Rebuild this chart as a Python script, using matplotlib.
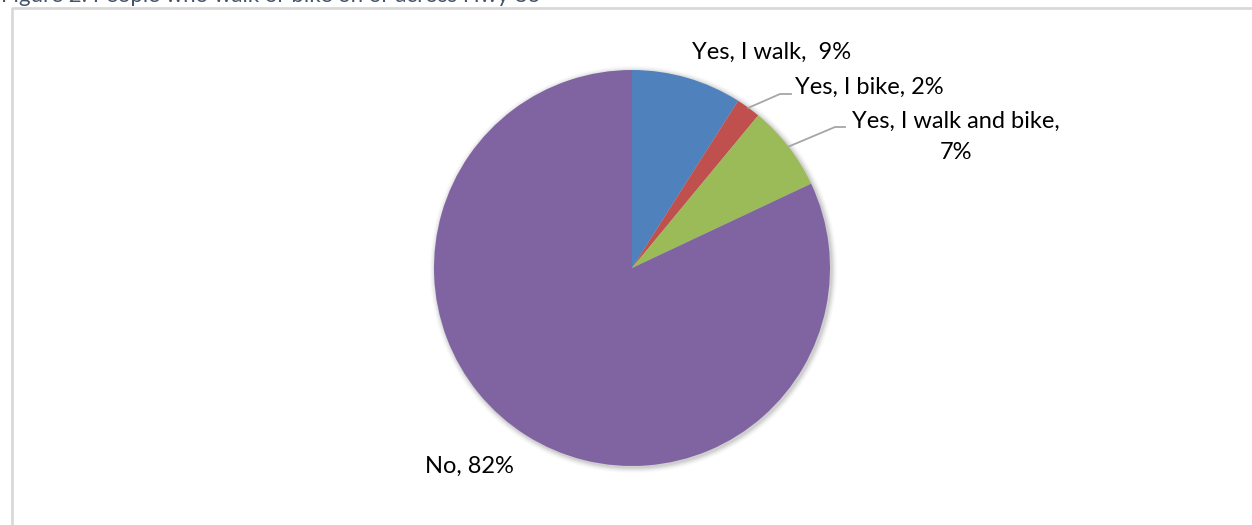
import numpy as np
import matplotlib
matplotlib.use("Agg")
import matplotlib.pyplot as plt
from matplotlib.patches import Circle

categories = ["Yes, I walk", "Yes, I bike", "Yes, I walk and bike", "No"]
shares = [9, 2, 7, 82]
label_texts = ["Yes, I walk,  9%", "Yes, I bike, 2%", "Yes, I walk and bike,\n7%", "No, 82%"]
colors = ["#4F81BD", "#C0504D", "#9BBB59", "#8064A2"]

plt.rcParams["font.family"] = ["Lato", "DejaVu Sans"]

W, H = 1252, 525
fig = plt.figure(figsize=(W / 100, H / 100), dpi=100)
fig.patch.set_facecolor("white")

# Figure caption, partly cut off by the top edge
fig.text(1 / W, 1 - 1.5 / H, "Figure 2: People who walk or bike on or across Hwy 83",
         fontsize=16, color="#44546A", ha="left", va="baseline")

# Chart frame (left and top edges visible)
frame = fig.add_axes([0, 0, 1, 1])
frame.set_xlim(0, W)
frame.set_ylim(H, 0)
frame.axis("off")
frame.plot([12, 12, W + 5], [H + 5, 8, 8], color="#D9D9D9", lw=2, solid_capstyle="butt")

# Pie axes: data units equal to pixels, centred on the pie
cx, cy, R = 632, 268, 198
box = 220
ax = fig.add_axes([(cx - box) / W, (H - cy - box) / H, 2 * box / W, 2 * box / H])

# Soft shadow
for i, a in enumerate(np.linspace(0.05, 0.01, 6)):
    ax.add_patch(Circle((1.5, -1.5), R + 1 + i, color="black", alpha=a, lw=0, zorder=0))

wedges, _ = ax.pie(shares, colors=colors, radius=R, startangle=90, counterclock=False,
                   wedgeprops=dict(linewidth=0))
for w in wedges:
    w.set_zorder(2)

ax.set_xlim(-box, box)
ax.set_ylim(-box, box)
ax.set_aspect("equal")
ax.axis("off")

fs = 17
txt_kw = dict(fontsize=fs, color="black", zorder=5)
leader_kw = dict(color="#A6A6A6", lw=1.3, zorder=4)

def mid_point(i, r):
    ang = np.deg2rad(wedges[i].theta1 + wedges[i].theta2) / 2
    return r * np.cos(ang), r * np.sin(ang)

# Yes, I walk
ax.text(772 - cx, cy - 52, label_texts[0], ha="center", va="center", **txt_kw)

# Yes, I bike with leader line
px, py = mid_point(1, R)
ax.plot([px, 780 - cx, 791 - cx], [py, cy - 94, cy - 94], **leader_kw)
ax.text(795 - cx, cy - 87, label_texts[1], ha="left", va="center", **txt_kw)

# Yes, I walk and bike with leader line
px, py = mid_point(2, R)
ax.plot([px, 835 - cx, 845 - cx], [py, cy - 127, cy - 127], **leader_kw)
ax.text(956 - cx, cy - 137, label_texts[2], ha="center", va="center",
        multialignment="center", linespacing=1.6, **txt_kw)

# No
ax.text(469 - cx, cy - 466, label_texts[3], ha="center", va="center", **txt_kw)

fig.savefig("out.png", dpi=100, facecolor="white")
